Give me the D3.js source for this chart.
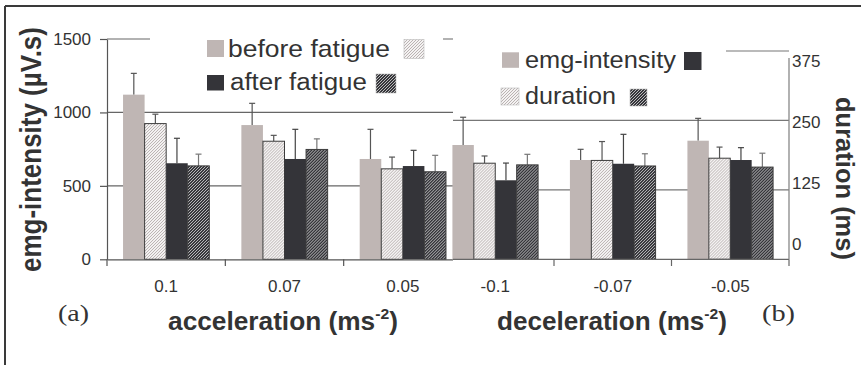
<!DOCTYPE html>
<html>
<head>
<meta charset="utf-8">
<script src="https://cdn.jsdelivr.net/npm/d3@7"></script>
<style>
  body { margin: 0; background: #fff; }
  svg { display: block; }
  text { font-family: "Liberation Sans", Arial, sans-serif; fill: #333; }
</style>
</head>
<body>
<svg id="chart" width="861" height="365"></svg>
<script>
// categories
const accelCats = ["0.1", "0.07", "0.05"];
const decelCats = ["-0.1", "-0.07", "-0.05"];
const seriesKeys = ["emgBefore", "durBefore", "emgAfter", "durAfter"];

// (a) acceleration : emg in uV.s, duration in ms
const accEmgBefore = [1121, 914, 683];
const accEmgBeforeErr = [145, 148, 202];
const accDurBefore = [231, 201, 154];
const accDurBeforeErr = [16, 10, 20];
const accEmgAfter = [654, 683, 635];
const accEmgAfterErr = [170, 202, 107];
const accDurAfter = [159, 187, 149];
const accDurAfterErr = [20, 18, 28];

// (b) deceleration
const decEmgBefore = [823, 715, 854];
const decEmgBeforeErr = [200, 77, 161];
const decDurBefore = [173, 178, 182];
const decDurBeforeErr = [13, 34, 20];
const decEmgAfter = [569, 688, 715];
const decEmgAfterErr = [124, 212, 89];
const decDurAfter = [170, 168, 166];
const decDurAfterErr = [19, 22, 25];

// ticks and legends
const emgTicks = [0, 500, 1000, 1500];
const durTicks = [0, 125, 250, 375];
const legendA = ["before fatigue", "after fatigue"];
const legendB = ["emg-intensity", "duration"];

const svg = d3.select("#chart");

// patterns for the duration bars
const defs = svg.append("defs");
function hatch(id, bg, fg, w) {
  const p = defs.append("pattern").attr("id", id)
    .attr("patternUnits", "userSpaceOnUse").attr("width", 3).attr("height", 3);
  p.append("rect").attr("width", 3).attr("height", 3).attr("fill", bg);
  p.append("path").attr("d", "M-1,1 L1,-1 M0,3 L3,0 M2,4 L4,2")
    .attr("stroke", fg).attr("stroke-width", w);
}
hatch("hatchLight", "#f4f2f2", "#b3abaa", 0.9);
hatch("hatchDark", "#35353a", "#dedede", 0.8);

const style = {
  emgBefore: { fill: "#bfb6b4", stroke: "none", err: "#555" },
  durBefore: { fill: "url(#hatchLight)", stroke: "#3c3c3c", err: "#555" },
  emgAfter: { fill: "#343439", stroke: "none", err: "#444" },
  durAfter: { fill: "url(#hatchDark)", stroke: "#3c3c3c", err: "#777" }
};

// frame of the figure
svg.append("line").attr("x1", 5).attr("x2", 861).attr("y1", 6).attr("y2", 6)
  .attr("stroke", "#3a3a3a").attr("stroke-width", 2);
svg.append("line").attr("x1", 5).attr("x2", 5).attr("y1", 6).attr("y2", 365)
  .attr("stroke", "#3a3a3a").attr("stroke-width", 2);

function rows(cats, vals, errs) {
  return cats.map((c, i) => ({
    cat: c,
    bars: seriesKeys.map((k, j) => ({ key: k, value: vals[j][i], err: errs[j][i] }))
  }));
}

function drawBars(g, data, x, yEmg, yDur) {
  const sub = d3.scaleBand().domain(seriesKeys).range([0, x.bandwidth()]);
  const grp = g.append("g").selectAll("g").data(data).join("g")
    .attr("transform", d => `translate(${x(d.cat)},0)`);
  const yOf = k => (k.startsWith("emg") ? yEmg : yDur);

  grp.selectAll("line.err").data(d => d.bars).join("line").attr("class", "err")
    .attr("x1", d => sub(d.key) + sub.bandwidth() / 2)
    .attr("x2", d => sub(d.key) + sub.bandwidth() / 2)
    .attr("y1", d => yOf(d.key)(d.value))
    .attr("y2", d => yOf(d.key)(d.value + d.err))
    .attr("stroke", d => style[d.key].err).attr("stroke-width", 1.2);
  grp.selectAll("line.cap").data(d => d.bars).join("line").attr("class", "cap")
    .attr("x1", d => sub(d.key) + sub.bandwidth() / 2 - 3)
    .attr("x2", d => sub(d.key) + sub.bandwidth() / 2 + 3)
    .attr("y1", d => yOf(d.key)(d.value + d.err))
    .attr("y2", d => yOf(d.key)(d.value + d.err))
    .attr("stroke", d => style[d.key].err).attr("stroke-width", 1.2);

  grp.selectAll("rect").data(d => d.bars).join("rect")
    .attr("x", d => sub(d.key))
    .attr("width", sub.bandwidth())
    .attr("y", d => yOf(d.key)(d.value))
    .attr("height", d => yOf(d.key)(0) - yOf(d.key)(d.value))
    .attr("fill", d => style[d.key].fill)
    .attr("stroke", d => style[d.key].stroke)
    .attr("stroke-width", 1);
}

// stretches a text so that it covers the measured width
function fit(text, width) {
  const n = text.node().getComputedTextLength();
  const t = text.attr("data-t");
  text.attr("transform", `${t} scale(${width / n},1)`);
}

const tickFont = sel => sel.attr("font-size", 17).attr("fill", "#333")
  .style("font-family", "'Liberation Sans', Arial, sans-serif");

/* ---------- panel (a) ---------- */
const yA = d3.scaleLinear().domain([0, 1500]).range([259.3, 39]);
const yAd = d3.scaleLinear().domain([0, 375]).range([259.3, 39]);
const xA = d3.scaleBand().domain(accelCats).range([107, 462])
  .paddingInner(0.271).paddingOuter(0.1355);

const pa = svg.append("g");
pa.append("g").selectAll("line").data(emgTicks.slice(1)).join("line")
  .attr("x1", 107).attr("x2", 462)
  .attr("y1", d => yA(d)).attr("y2", d => yA(d))
  .attr("stroke", "#666").attr("stroke-width", 1.2);

drawBars(pa, rows(accelCats,
  [accEmgBefore, accDurBefore, accEmgAfter, accDurAfter],
  [accEmgBeforeErr, accDurBeforeErr, accEmgAfterErr, accDurAfterErr]), xA, yA, yAd);

const axA = pa.append("g").attr("transform", "translate(107,0)")
  .call(d3.axisLeft(yA).tickValues(emgTicks).tickFormat(d3.format("d"))
    .tickSize(7).tickPadding(9).tickSizeOuter(0));
axA.select(".domain").attr("stroke", "#555").attr("stroke-width", 1.2);
axA.selectAll(".tick line").attr("stroke", "#555").attr("stroke-width", 1.2);
axA.selectAll("text").call(tickFont);

const bxA = pa.append("g").attr("transform", "translate(0,259.3)")
  .call(d3.axisBottom(xA).tickSize(0).tickPadding(21).tickSizeOuter(0));
bxA.select(".domain").attr("stroke", "#555").attr("stroke-width", 1.2);
bxA.selectAll("text").call(tickFont);
pa.append("g").selectAll("line").data(accelCats).join("line")
  .attr("x1", d => xA(d) - (xA.step() - xA.bandwidth()) / 2)
  .attr("x2", d => xA(d) - (xA.step() - xA.bandwidth()) / 2)
  .attr("y1", 259.3).attr("y2", 266)
  .attr("stroke", "#555").attr("stroke-width", 1.2);

/* ---------- panel (b) ---------- */
const yB = d3.scaleLinear().domain([0, 1500]).range([259.3, 51]);
const yBd = d3.scaleLinear().domain([0, 375]).range([259.3, 51]);
const yBlabel = d3.scaleLinear().domain([0, 375]).range([243.7, 60.8]);
const xB = d3.scaleBand().domain(decelCats).range([436.5, 789])
  .paddingInner(0.271).paddingOuter(0.1355);

const pb = svg.append("g");
pb.append("rect").attr("x", 453).attr("y", 30).attr("width", 336).attr("height", 232)
  .attr("fill", "#fff");
pb.append("g").selectAll("line").data(durTicks.slice(1)).join("line")
  .attr("x1", 453).attr("x2", 789)
  .attr("y1", d => yBd(d)).attr("y2", d => yBd(d))
  .attr("stroke", "#777").attr("stroke-width", 1.2);

drawBars(pb, rows(decelCats,
  [decEmgBefore, decDurBefore, decEmgAfter, decDurAfter],
  [decEmgBeforeErr, decDurBeforeErr, decEmgAfterErr, decDurAfterErr]), xB, yB, yBd);

pb.append("line").attr("x1", 453).attr("x2", 789).attr("y1", 259.3).attr("y2", 259.3)
  .attr("stroke", "#666").attr("stroke-width", 1.2);
const bxB = pb.append("g").attr("transform", "translate(0,259.3)")
  .call(d3.axisBottom(xB).tickSize(0).tickPadding(21).tickSizeOuter(0));
bxB.select(".domain").remove();
bxB.selectAll("text").call(tickFont);
pb.append("g").selectAll("line").data(decelCats).join("line")
  .attr("x1", d => xB(d) + xB.bandwidth() + (xB.step() - xB.bandwidth()) / 2)
  .attr("x2", d => xB(d) + xB.bandwidth() + (xB.step() - xB.bandwidth()) / 2)
  .attr("y1", 259.3).attr("y2", 266)
  .attr("stroke", "#666").attr("stroke-width", 1.2);

pb.append("line").attr("x1", 789).attr("x2", 789)
  .attr("y1", yBd(375) + 7).attr("y2", yBd(0))
  .attr("stroke", "#888").attr("stroke-width", 1.3);
const rax = pb.append("g").attr("transform", "translate(789,0)")
  .call(d3.axisRight(yBlabel).tickValues(durTicks).tickSize(0).tickPadding(3));
rax.select(".domain").remove();
rax.selectAll("text").call(tickFont);

/* ---------- legends ---------- */
svg.append("rect").attr("x", 150).attr("y", 28).attr("width", 293).attr("height", 70).attr("fill", "#fff");
svg.append("rect").attr("x", 453).attr("y", 40).attr("width", 273).attr("height", 72).attr("fill", "#fff");

const legA = [
  { text: legendA[0], x: 228, y: 57, w: 162, sw: [[207, 40, 17, 17, "emgBefore"], [404, 39.5, 20, 19, "durBefore"]] },
  { text: legendA[1], x: 230, y: 89.5, w: 137, sw: [[207, 75, 17, 15.5, "emgAfter"], [376, 74, 20, 19, "durAfter"]] }
];
const legB = [
  { text: legendB[0], x: 525, y: 68.3, w: 151, sw: [[502, 52.3, 17, 15.5, "emgBefore"], [684, 52, 17.5, 18, "emgAfter"]] },
  { text: legendB[1], x: 525, y: 104.3, w: 91, sw: [[501, 88, 18, 17, "durBefore"], [630, 89, 17, 17, "durAfter"]] }
];
legA.concat(legB).forEach(l => {
  l.sw.forEach(s => {
    svg.append("rect").attr("x", s[0]).attr("y", s[1]).attr("width", s[2]).attr("height", s[3])
      .attr("fill", style[s[4]].fill)
      .attr("stroke", s[4].startsWith("dur") ? "#bbb" : "none").attr("stroke-width", 0.6);
  });
  const t = svg.append("text").attr("data-t", `translate(${l.x},${l.y})`)
    .attr("font-size", 24).text(l.text);
  fit(t, l.w);
});

/* ---------- titles ---------- */
const tl = svg.append("text").attr("data-t", "translate(41,149.5) rotate(-90)")
  .attr("text-anchor", "middle").attr("font-size", 29).attr("font-weight", "bold")
  .text("emg-intensity (µV.s)");
fit(tl, 245);

const tr = svg.append("text").attr("data-t", "translate(836,178.5) rotate(90)")
  .attr("text-anchor", "middle").attr("font-size", 26).attr("font-weight", "bold")
  .text("duration (ms)");
fit(tr, 163);

function xTitle(label, cx, w) {
  const t = svg.append("text").attr("data-t", `translate(${cx},330)`)
    .attr("text-anchor", "middle").attr("font-size", 25).attr("font-weight", "bold");
  t.append("tspan").text(label + " (ms");
  t.append("tspan").attr("font-size", 15).attr("dy", -11).text("-2");
  t.append("tspan").attr("dy", 11).text(")");
  fit(t, w);
}
xTitle("acceleration", 283, 230);
xTitle("deceleration", 612, 230);

[["(a)", 58, 31], ["(b)", 762, 33]].forEach(p => {
  const t = svg.append("text").attr("data-t", `translate(${p[1]},321)`)
    .attr("font-size", 24).style("font-family", "'Liberation Serif', 'Times New Roman', serif")
    .text(p[0]);
  fit(t, p[2]);
});
</script>
</body>
</html>
